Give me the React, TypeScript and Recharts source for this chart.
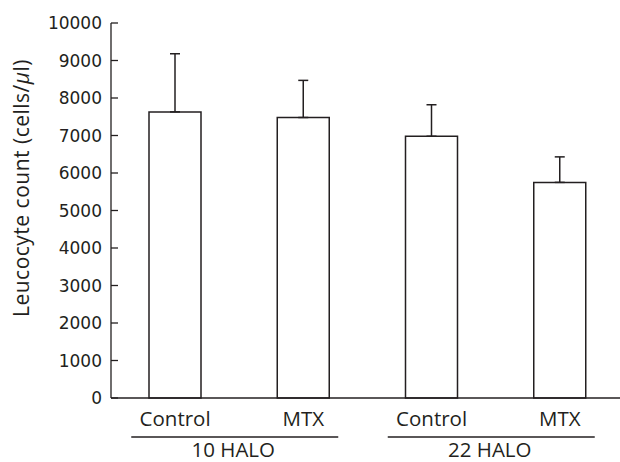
import { BarChart, Bar, XAxis, YAxis, ErrorBar } from "recharts"

// Values
const LABELS = ["Control", "MTX", "Control", "MTX"]
const GROUPS = ["10 HALO", "10 HALO", "22 HALO", "22 HALO"]
const MEANS = [7630, 7480, 6980, 5750]
const SD = [1550, 990, 840, 680]
const Y_TICKS = [0, 1000, 2000, 3000, 4000, 5000, 6000, 7000, 8000, 9000, 10000]

const INK = "#231f20"
const FONT = "'Open Sans', sans-serif"
const NUM_FONT = "'DejaVu Sans', sans-serif"

const data = LABELS.map((label, i) => ({
  key: `${GROUPS[i]}-${label}`,
  label,
  group: GROUPS[i],
  mean: MEANS[i],
  // only the upper half of the error bar is drawn
  err: [0, SD[i]],
}))

function TreatmentTick(props: any) {
  const { x, y, payload } = props
  const d = data.find((r) => r.key === payload.value)
  return (
    <text x={x} y={y} dy="0.71em" textAnchor="middle" fill={INK} fontSize={20.5} fontFamily={FONT}>
      {d ? d.label : ""}
    </text>
  )
}

function GroupTick(props: any) {
  const { x, y, payload } = props
  return (
    <g>
      <line x1={x - 108} x2={x + 99} y1={y + 7} y2={y + 7} stroke={INK} strokeWidth={1.3} />
      <text x={x - 6} y={y + 27} textAnchor="middle" fill={INK} fontSize={20.5} fontFamily={FONT}>
        {payload.value}
      </text>
    </g>
  )
}

function ValueTick(props: any) {
  const { x, y, payload } = props
  return (
    <text x={x} y={y} dy="0.36em" textAnchor="end" fill={INK} fontSize={17} fontFamily={NUM_FONT}>
      {payload.value}
    </text>
  )
}

function YLabel() {
  return (
    <text
      x={29}
      y={188}
      transform="rotate(-90 29 188)"
      textAnchor="middle"
      fill={INK}
      fontSize={21}
      letterSpacing={0.5}
      fontFamily={FONT}
    >
      Leucocyte count (cells/<tspan fontStyle="italic">μ</tspan>l)
    </text>
  )
}

export default function App() {
  return (
    <div style={{ position: "absolute", left: 0, top: 0, width: 620, height: 462, overflow: "hidden", background: "#fff" }}>
      <BarChart
        width={640}
        height={462}
        data={data}
        margin={{ top: 23, right: 16, left: 0, bottom: 0 }}
        barCategoryGap={0}
      >
        <XAxis
          dataKey="key"
          height={30}
          tick={<TreatmentTick />}
          tickLine={false}
          tickSize={0}
          tickMargin={13}
          axisLine={{ stroke: INK, strokeWidth: 1.3 }}
          interval={0}
        />
        <XAxis
          xAxisId="group"
          dataKey="group"
          height={34}
          allowDuplicatedCategory={false}
          axisLine={false}
          tickLine={false}
          tickSize={0}
          tick={<GroupTick />}
          interval={0}
        />
        <YAxis
          width={111}
          domain={[0, 10000]}
          ticks={Y_TICKS}
          interval={0}
          tickSize={-7}
          tickMargin={16}
          tick={<ValueTick />}
          tickLine={{ stroke: INK, strokeWidth: 1.3 }}
          axisLine={{ stroke: INK, strokeWidth: 1.3 }}
          label={<YLabel />}
        />
        <Bar dataKey="mean" fill="#fff" stroke={INK} strokeWidth={1.5} barSize={52} isAnimationActive={false}>
          <ErrorBar dataKey="err" direction="y" width={5} stroke={INK} strokeWidth={1.5} />
        </Bar>
      </BarChart>
    </div>
  )
}
